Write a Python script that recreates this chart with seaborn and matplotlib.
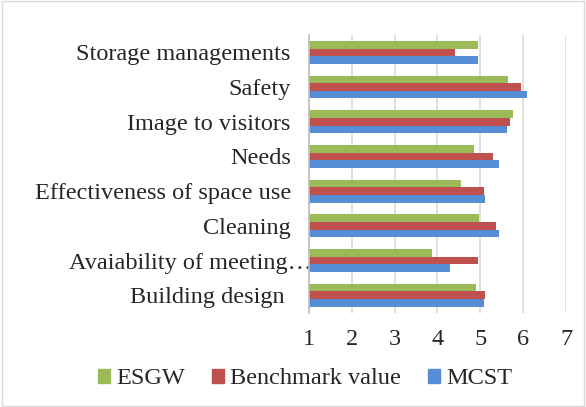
import matplotlib
matplotlib.use("Agg")
import matplotlib.pyplot as plt
import pandas as pd
import seaborn as sns
from matplotlib.patches import Rectangle
from matplotlib.transforms import ScaledTranslation

categories = [
    "Storage managements",
    "Safety",
    "Image to visitors",
    "Needs",
    "Effectiveness of space use",
    "Cleaning",
    "Avaiability of meeting…",
    "Building design ",
]
esgw = [4.95, 5.64, 5.77, 4.85, 4.54, 4.96, 3.88, 4.89]
benchmark = [4.42, 5.95, 5.69, 5.29, 5.08, 5.37, 4.95, 5.11]
mcst = [4.95, 6.10, 5.62, 5.44, 5.12, 5.43, 4.30, 5.08]
series = ["ESGW", "Benchmark value", "MCST"]
colors = ["#9BBB59", "#C0504D", "#558ED5"]

df = pd.DataFrame(
    {
        "Category": categories * 3,
        "Value": esgw + benchmark + mcst,
        "Series": [series[0]] * 8 + [series[1]] * 8 + [series[2]] * 8,
    }
)

sns.set_theme(style="white")
plt.rcParams["font.family"] = ["Liberation Serif", "DejaVu Serif"]

fig = plt.figure(figsize=(5.86, 4.07), dpi=100)
ax = fig.add_axes([0.527, 0.232, 0.439, 0.682])

sns.barplot(
    data=df,
    x="Value",
    y="Category",
    hue="Series",
    hue_order=series,
    palette=colors,
    orient="h",
    width=0.66,
    saturation=1,
    linewidth=0,
    ax=ax,
    legend=False,
)

ax.set_xlim(1, 7)
ax.set_xticks(range(1, 8))
ax.grid(axis="x", color="#d9d9d9", linewidth=1.2)
ax.set_axisbelow(True)
for s in ["top", "right", "bottom"]:
    ax.spines[s].set_visible(False)
ax.spines["left"].set_color("#bfbfbf")
ax.tick_params(axis="x", length=0, pad=12, labelsize=17.5)
ax.tick_params(axis="y", length=0, pad=13, labelsize=17.5)
ax.set_xlabel("")
ax.set_ylabel("")

# the truncated label runs over the axis line in the original
for lbl in ax.get_yticklabels():
    if lbl.get_text().endswith("…"):
        lbl.set_transform(lbl.get_transform() + ScaledTranslation(0.21, 0, fig.dpi_scale_trans))

handles = [Rectangle((0, 0), 1, 1, color=c) for c in colors]
fig.legend(
    handles,
    series,
    loc="center",
    bbox_to_anchor=(305 / 586, 1 - 379 / 407),
    ncol=3,
    frameon=False,
    fontsize=17.5,
    handlelength=0.5,
    handleheight=0.5,
    handletextpad=0.25,
    columnspacing=1.1,
)

fig.patches.append(
    Rectangle((0.003, 0.003), 0.994, 0.994, transform=fig.transFigure,
              fill=False, edgecolor="#d9d9d9", linewidth=1)
)

fig.savefig("out.png", dpi=100, facecolor="white")
